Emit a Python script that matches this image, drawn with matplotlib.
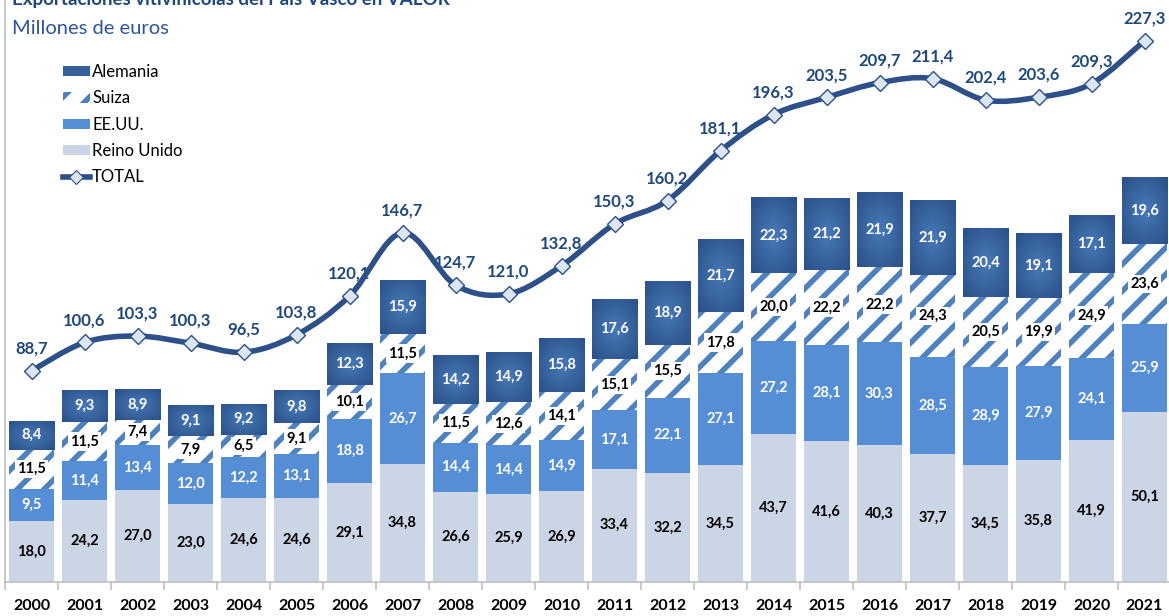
import numpy as np
import matplotlib
matplotlib.use("Agg")
import matplotlib.pyplot as plt
from matplotlib.path import Path
from matplotlib.patches import PathPatch, Patch
from matplotlib.lines import Line2D
from matplotlib.colors import LinearSegmentedColormap

# dpi 80 to get a tighter hatch; sizes below are scaled by S
DPI = 80
S = 100 / DPI

plt.rcParams['font.family'] = ['Lato', 'DejaVu Sans']
plt.rcParams['hatch.linewidth'] = 5.0

# Datos (millones de euros)
years = [str(y) for y in range(2000, 2022)]
reino_unido = [18.0, 24.2, 27.0, 23.0, 24.6, 24.6, 29.1, 34.8, 26.6, 25.9, 26.9,
               33.4, 32.2, 34.5, 43.7, 41.6, 40.3, 37.7, 34.5, 35.8, 41.9, 50.1]
eeuu = [9.5, 11.4, 13.4, 12.0, 12.2, 13.1, 18.8, 26.7, 14.4, 14.4, 14.9,
        17.1, 22.1, 27.1, 27.2, 28.1, 30.3, 28.5, 28.9, 27.9, 24.1, 25.9]
suiza = [11.5, 11.5, 7.4, 7.9, 6.5, 9.1, 10.1, 11.5, 11.5, 12.6, 14.1,
         15.1, 15.5, 17.8, 20.0, 22.2, 22.2, 24.3, 20.5, 19.9, 24.9, 23.6]
alemania = [8.4, 9.3, 8.9, 9.1, 9.2, 9.8, 12.3, 15.9, 14.2, 14.9, 15.8,
            17.6, 18.9, 21.7, 22.3, 21.2, 21.9, 21.9, 20.4, 19.1, 17.1, 19.6]
total = [88.7, 100.6, 103.3, 100.3, 96.5, 103.8, 120.1, 146.7, 124.7, 121.0, 132.8,
         150.3, 160.2, 181.1, 196.3, 203.5, 209.7, 211.4, 202.4, 203.6, 209.3, 227.3]

C_RU = '#CCD5E6'
C_US = '#558ED5'
C_CH = '#4F81BD'
C_DE = '#35609A'
C_LINE = '#2C5087'
C_TXT = '#1F497D'

W, H = 1169, 616
fig = plt.figure(figsize=(W / DPI, H / DPI), dpi=DPI)
ax = fig.add_axes([5 / W, 34 / H, 1166 / W, 582 / H])
ax2 = ax.twinx()

x = np.arange(len(years))
bw = 0.85
ru = np.array(reino_unido)
us = np.array(eeuu)
ch = np.array(suiza)
de = np.array(alemania)

ax.bar(x, ru, bw, color=C_RU, zorder=2)
ax.bar(x, us, bw, bottom=ru, color=C_US, zorder=2)
ax.bar(x, ch, bw, bottom=ru + us, color='white', edgecolor=C_CH, linewidth=0,
       hatch='/', zorder=2)
bars_de = ax.bar(x, de, bw, bottom=ru + us + ch, color=C_DE, zorder=2)

# degradado radial en Alemania
cmap = LinearSegmentedColormap.from_list('de', ['#4779B7', '#2A5088'])
gy, gx = np.mgrid[-1:1:60j, -1:1:40j]
grad = np.sqrt(gx ** 2 + gy ** 2) / np.sqrt(2)
for b in bars_de:
    x0, y0 = b.get_x(), b.get_y()
    im = ax.imshow(grad, extent=[x0, x0 + b.get_width(), y0, y0 + b.get_height()],
                   aspect='auto', cmap=cmap, vmin=0, vmax=1, zorder=3,
                   interpolation='bilinear')
    im.set_clip_path(b)

lab_kw = dict(ha='center', va='center', fontsize=10.5 * S, fontweight='bold', zorder=5)
for i in x:
    ax.text(i, ru[i] / 2, f'{ru[i]:.1f}'.replace('.', ','), color='black', **lab_kw)
    ax.text(i, ru[i] + us[i] / 2, f'{us[i]:.1f}'.replace('.', ','), color='white', **lab_kw)
    ax.text(i, ru[i] + us[i] + ch[i] / 2, f'{ch[i]:.1f}'.replace('.', ','), color='black',
            bbox=dict(boxstyle='square,pad=0.15', fc='white', ec='none'), **lab_kw)
    ax.text(i, ru[i] + us[i] + ch[i] + de[i] / 2, f'{de[i]:.1f}'.replace('.', ','),
            color='white', **lab_kw)

# línea TOTAL suavizada (Catmull-Rom -> Bezier)
pts = np.column_stack([x, total]).astype(float)
verts = [pts[0]]
codes = [Path.MOVETO]
n = len(pts)
for i in range(n - 1):
    p0 = pts[max(i - 1, 0)]
    p1 = pts[i]
    p2 = pts[i + 1]
    p3 = pts[min(i + 2, n - 1)]
    verts += [p1 + (p2 - p0) / 6, p2 - (p3 - p1) / 6, p2]
    codes += [Path.CURVE4] * 3
ax2.add_patch(PathPatch(Path(verts, codes), fill=False, edgecolor=C_LINE, lw=4 * S,
                        capstyle='round', zorder=4))
ax2.plot(x, total, ls='none', marker='D', ms=8 * S, mfc='#DCE6F2', mec=C_LINE,
         mew=1 * S, zorder=5)
for i in x:
    ax2.annotate(f'{total[i]:.1f}'.replace('.', ','), (i, total[i]), xytext=(0, 16 * S),
                 textcoords='offset points', ha='center', va='center',
                 fontsize=12 * S, fontweight='bold', color=C_TXT)

ax.set_xlim(-0.5, len(years) - 0.5)
ax.set_ylim(0, 582 / 3.397)
ax2.set_ylim(0, 582 / 2.381)

for a in (ax, ax2):
    a.spines['top'].set_visible(False)
    a.spines['right'].set_visible(False)
    a.set_yticks([])
ax.spines['left'].set_color('#BFBFBF')
ax.spines['bottom'].set_color('#BFBFBF')
ax.spines['left'].set_linewidth(1.2 * S)
ax.spines['bottom'].set_linewidth(1.2 * S)
ax2.spines['left'].set_visible(False)
ax2.spines['bottom'].set_visible(False)

ax.set_xticks(np.arange(-0.5, len(years) + 0.5), minor=False)
ax.set_xticklabels([])
ax.tick_params(axis='x', which='major', length=6 * S, width=1.2 * S, color='#BFBFBF',
               direction='out')
ax.set_xticks(x, minor=True)
ax.set_xticklabels(years, minor=True, fontsize=11.5 * S, fontweight='bold')
ax.tick_params(axis='x', which='minor', length=0, pad=12 * S)

handles = [Patch(facecolor=C_DE), Patch(facecolor='white', edgecolor=C_CH, hatch='/', lw=0),
           Patch(facecolor=C_US), Patch(facecolor=C_RU),
           Line2D([], [], color=C_LINE, lw=4 * S, marker='D', ms=7 * S, mfc='#DCE6F2',
                  mec=C_LINE)]
labels = ['Alemania', 'Suiza', 'EE.UU.', 'Reino Unido', 'TOTAL']
fig.legend(handles, labels, loc='upper left', bbox_to_anchor=(48 / W, 1 - 49 / H),
           frameon=False, fontsize=12 * S, handlelength=1.6, handleheight=0.6,
           handletextpad=0.15, labelspacing=0.62)

fig.text(12 / W, 1 - 5 / H, 'Exportaciones vitivinícolas del País Vasco en VALOR',
         ha='left', va='baseline', fontsize=13.5 * S, fontweight='bold', color=C_TXT)
fig.text(12 / W, 1 - 28 / H, 'Millones de euros', ha='left', va='center',
         fontsize=14.5 * S, color='#2E5597')

fig.savefig('out.png', dpi=DPI)
